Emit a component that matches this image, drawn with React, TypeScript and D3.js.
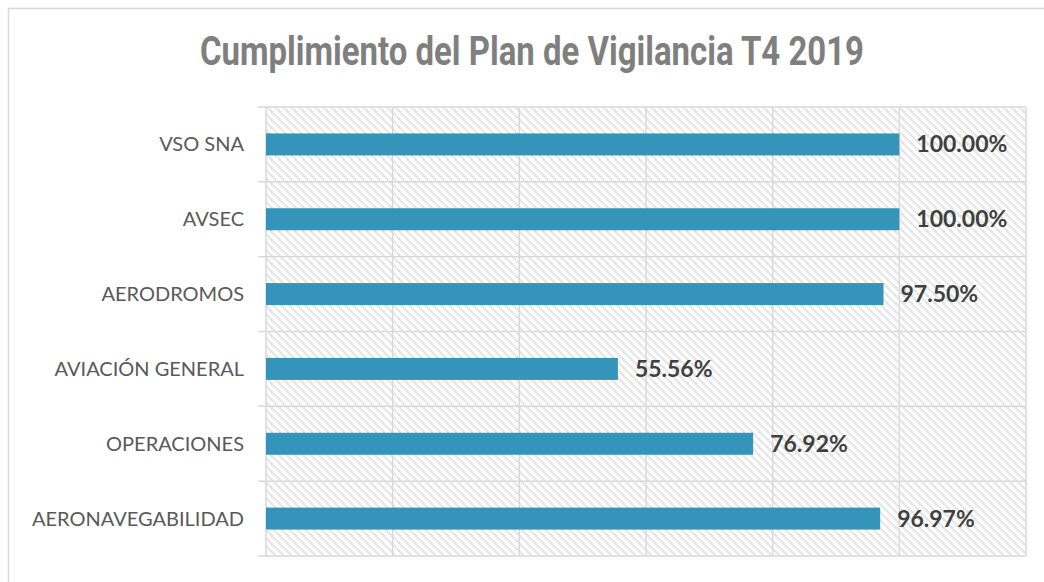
import React from 'react';
import * as d3 from 'd3';

const categories = ['VSO SNA', 'AVSEC', 'AERODROMOS', 'AVIACIÓN GENERAL', 'OPERACIONES', 'AERONAVEGABILIDAD'];
const values = [100, 100, 97.5, 55.56, 76.92, 96.97];
const xTicks = [0, 20, 40, 60, 80, 100, 120];
const title = 'Cumplimiento del Plan de Vigilancia T4 2019';

const W = 1044;
const H = 582;
const plot = { left: 266, right: 1026, top: 107, bottom: 556 };

export default function App() {
  const x = d3.scaleLinear().domain([0, 120]).range([plot.left, plot.right]);
  const y = d3.scaleBand<string>().domain(categories).range([plot.top, plot.bottom]);
  const barH = 22;
  const grid = '#d9d9d9';

  return (
    <svg
      width={W}
      height={H}
      viewBox={`0 0 ${W} ${H}`}
      style={{ position: 'absolute', left: 0, top: 0, display: 'block', background: '#fff' }}
    >
      <defs>
        <pattern id="hatch" width="8" height="8" patternUnits="userSpaceOnUse">
          <path d="M-2,-2 L10,10 M-2,6 L2,10 M6,-2 L10,2" stroke="#cfcfcf" strokeWidth="1.8" strokeDasharray="1.4 1" />
        </pattern>
      </defs>

      {/* chart frame */}
      <rect x={8.5} y={8.5} width={1044} height={590} fill="none" stroke={grid} strokeWidth={1.5} />

      <text
        x={532}
        y={65}
        textAnchor="middle"
        textLength={664}
        lengthAdjust="spacingAndGlyphs"
        fontFamily="Roboto, 'DejaVu Sans', sans-serif"
        fontWeight="bold"
        fontSize={40}
        fill="#7f7f7f"
      >
        {title}
      </text>

      {/* plot background */}
      <rect
        x={plot.left}
        y={plot.top}
        width={plot.right - plot.left}
        height={plot.bottom - plot.top}
        fill="url(#hatch)"
      />

      {/* vertical gridlines */}
      {xTicks.map(t => (
        <line key={'v' + t} x1={x(t)} x2={x(t)} y1={plot.top} y2={plot.bottom} stroke={grid} strokeWidth={1.5} />
      ))}

      {/* horizontal gridlines at band edges, with outer ticks */}
      {[...categories.map(c => y(c) as number), plot.bottom].map((v, i) => (
        <line key={'h' + i} x1={plot.left - 8} x2={plot.right} y1={v} y2={v} stroke={grid} strokeWidth={1.5} />
      ))}

      {categories.map((c, i) => {
        const cy = (y(c) as number) + y.bandwidth() / 2;
        return (
          <g key={c}>
            <rect x={x(0)} y={cy - barH / 2} width={x(values[i]) - x(0)} height={barH} fill="#3494ba" />
            <text
              x={244}
              y={cy}
              dy="0.35em"
              textAnchor="end"
              fontFamily="Lato, 'Noto Sans', sans-serif"
              fontSize={20}
              fill="#595959"
            >
              {c}
            </text>
            <text
              x={x(values[i]) + 17}
              y={cy}
              dy="0.35em"
              fontFamily="Lato, 'Noto Sans', sans-serif"
              fontWeight="bold"
              fontSize={23}
              fill="#404040"
            >
              {values[i].toFixed(2) + '%'}
            </text>
          </g>
        );
      })}
    </svg>
  );
}
